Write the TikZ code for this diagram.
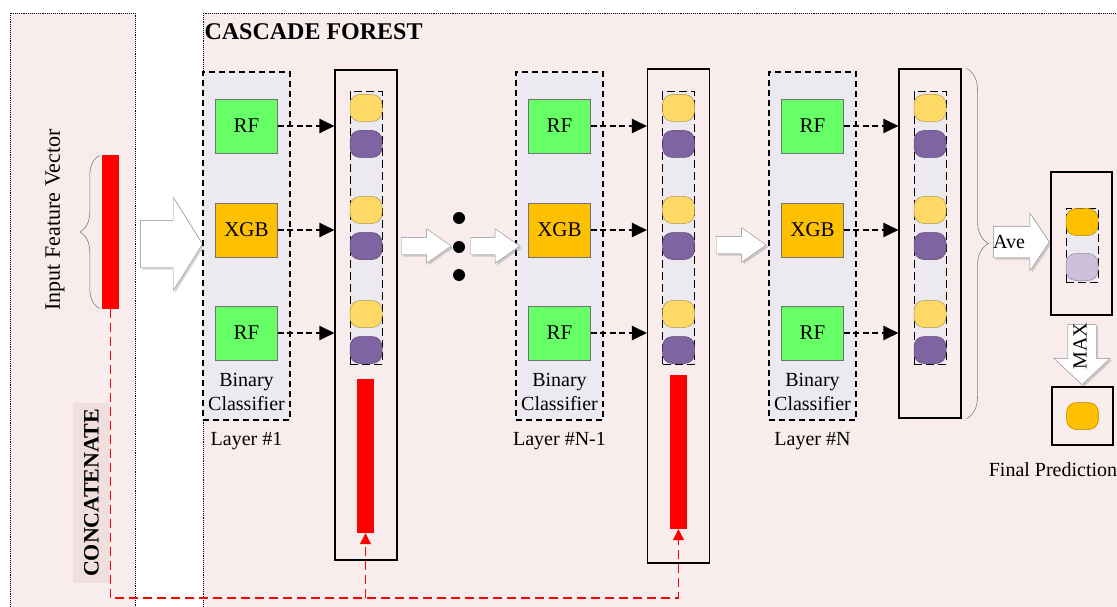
\documentclass[tikz,border=0pt]{standalone}
\usepackage{fontspec}
\setmainfont{Liberation Serif}
\usetikzlibrary{arrows.meta,positioning,shapes.arrows,shadows,decorations.pathreplacing}

\definecolor{bgpink}{RGB}{249,236,236}
\definecolor{concpink}{RGB}{241,222,222}
\definecolor{lav}{RGB}{236,233,241}
\definecolor{rfgreen}{RGB}{102,255,102}
\definecolor{xgborange}{RGB}{255,192,0}
\definecolor{yel}{RGB}{255,217,102}
\definecolor{pur}{RGB}{128,100,162}
\definecolor{lightpur}{RGB}{204,192,218}

\begin{document}
\begin{tikzpicture}[x=1pt,y=-1pt,
  every node/.style={font=\fontsize{20}{24}\selectfont},
  panel/.style={draw,densely dotted,fill=bgpink,line width=0.9pt},
  layerbox/.style={draw,dash pattern=on 6pt off 4pt,fill=lav,line width=1.1pt,minimum width=87pt,minimum height=348pt,inner sep=0pt},
  clf/.style={draw=black!55,minimum width=62pt,minimum height=54pt,inner sep=0pt,font=\fontsize{21}{24}\selectfont},
  column/.style={draw,line width=1.1pt,minimum width=62pt,inner sep=0pt},
  vecstrip/.style={draw,dash pattern=on 8pt off 4pt,fill=lav,line width=1pt,minimum width=32pt,minimum height=272pt,inner sep=0pt},
  prob/.style={draw=#1!70!black,fill=#1,rounded corners=10pt,minimum width=32pt,minimum height=27pt,inner sep=0pt,line width=0.5pt},
  redbar/.style={fill=red,minimum width=17pt,minimum height=154pt,inner sep=0pt},
  fat/.style={single arrow,draw=black!45,fill=white,inner xsep=0pt,
    drop shadow={opacity=0.35,shadow xshift=2pt,shadow yshift=-2pt}},
  clfarrow/.style={-{Triangle[length=15pt,width=14pt]},line width=2.2pt,dash pattern=on 6pt off 3.5pt},
  concat/.style={red,line width=1.4pt,dash pattern=on 9pt off 5pt,-{Triangle[length=11pt,width=11pt]}},
  bracegray/.style={draw=black!50,decorate,line width=0.6pt}
]
\useasboundingbox (0,0) rectangle (1117,607);

% background panels
\draw[panel] (10,13) rectangle (135,630);
\draw[panel] (203,13) rectangle (1130,630);
\node[anchor=west,font=\fontsize{24}{28}\selectfont\bfseries] (title) at (201,32) {CASCADE FOREST};

% input feature vector
\node[fill=red,minimum width=17pt,minimum height=153pt,inner sep=0pt] (vec) at (110.5,232) {};
\draw[bracegray,decoration={brace,amplitude=20pt}] ([xshift=-2pt]vec.south west) -- ([xshift=-2pt]vec.north west);
\node[rotate=90,font=\fontsize{22}{26}\selectfont] (ifv) at (55,220) {Input Feature Vector};
\node[fill=concpink,rotate=90,font=\fontsize{22}{26}\selectfont\bfseries,minimum width=180pt,minimum height=37pt,inner sep=0pt] (conc) at (91.5,493) {CONCATENATE};
\node[fat,minimum height=62pt,minimum width=93pt,inner ysep=23.5pt,single arrow head extend=23pt,single arrow tip angle=116] (inarr) at (164,244) {};

% layers of the cascade
\foreach \lx/\cx/\cy/\ch/\n/\lab in {246.5/366/315/490/1/{Layer \#1},559.5/678.5/316/494/2/{Layer \#N-1},812.5/930/243.5/349/3/{Layer \#N}}{
  \node[layerbox] (L\n) at (\lx,246) {};
  \node[clf,fill=rfgreen] (rfa\n) at (\lx,126) {RF};
  \node[clf,fill=xgborange] (xgb\n) at (\lx,230) {XGB};
  \node[clf,fill=rfgreen] (rfb\n) at (\lx,333) {RF};
  \node[align=center,inner sep=0pt] (bc\n) at (\lx,392) {Binary\\Classifier};
  \node[below=8pt of L\n] (lab\n) {\lab};
  \node[column,minimum height=\ch pt] (col\n) at (\cx,\cy) {};
  \node[vecstrip] (strip\n) at (\cx,228) {};
  \foreach \y/\c in {108/yel,144/pur,210/yel,246/pur,314/yel,350/pur}
    \node[prob=\c] (p\n-\y) at (\cx,\y) {};
  \draw[clfarrow] (rfa\n.east) -- (rfa\n.east -| col\n.west);
  \draw[clfarrow] (xgb\n.east) -- (xgb\n.east -| col\n.west);
  \draw[clfarrow] (rfb\n.east) -- (rfb\n.east -| col\n.west);
}

% between the layers
\node[fat,minimum height=50pt,minimum width=34pt,inner ysep=8.5pt,single arrow head extend=8.5pt,single arrow tip angle=70] (a12) at (420,246) {};
\foreach \y in {218,247,275}
  \node[circle,fill,inner sep=0pt,minimum size=12pt] (dot\y) at (459,\y) {};
\node[fat,minimum height=49pt,minimum width=34pt,inner ysep=8.5pt,single arrow head extend=8.5pt,single arrow tip angle=70] (a2) at (489,246) {};
\node[fat,minimum height=50pt,minimum width=34pt,inner ysep=8.5pt,single arrow head extend=8.5pt,single arrow tip angle=70] (a23) at (735,245) {};

% concatenated feature vectors
\node[redbar] (bar1) at (365.5,456) {};
\node[redbar] (bar2) at (678.5,452) {};
\coordinate (bus) at (0,598);
\draw[concat] (vec.south) |- (bus -| bar2.south) -- (bar2.south);
\draw[concat] (bus -| bar1.south) -- (bar1.south);

% averaging and final prediction
\draw[bracegray,decoration={brace,amplitude=22pt}] ([xshift=5pt]col3.north east) -- ([xshift=5pt]col3.south east);
\node[fat,minimum height=56pt,minimum width=57pt,inner ysep=15.5pt,single arrow head extend=13pt,single arrow tip angle=112] (ave) at (1016,242) {};
\node (avetxt) at ([xshift=-7pt]ave.center) {Ave};
\node[draw,line width=1.1pt,minimum width=61pt,minimum height=143pt,inner sep=0pt] (avg) at (1081.5,243.5) {};
\node[vecstrip,minimum height=74pt] (avgstrip) at (1082,245) {};
\node[prob=xgborange] (pmax) at (1082,222) {};
\node[prob=lightpur] (pmin) at (1082,267) {};
\node[fat,rotate=-90,minimum height=60pt,minimum width=56pt,inner ysep=14pt,single arrow head extend=14pt,single arrow tip angle=94] (max) at (1082,348) {};
\node[rotate=90] (maxtxt) at (1080,346) {MAX};
\node[draw,line width=1.1pt,minimum width=61pt,minimum height=58pt,inner sep=0pt] (fin) at (1082.5,416) {};
\node[prob=xgborange] (pfin) at (fin.center) {};
\node (finlab) at (1053,470) {Final Prediction};
\end{tikzpicture}
\end{document}
